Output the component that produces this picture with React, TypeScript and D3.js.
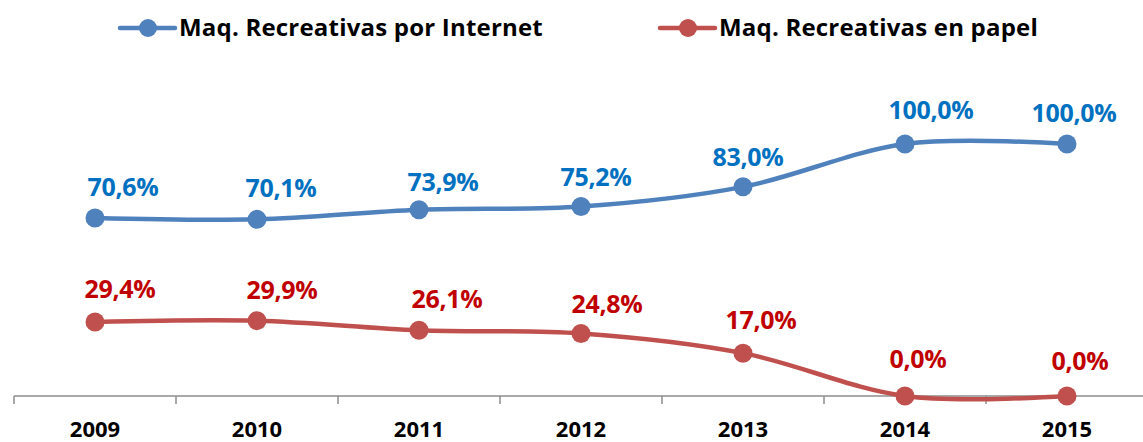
import { useEffect, useRef } from "react";
import * as d3 from "d3";

const years = ["2009", "2010", "2011", "2012", "2013", "2014", "2015"];
const internet = [70.6, 70.1, 73.9, 75.2, 83.0, 100.0, 100.0];
const papel = [29.4, 29.9, 26.1, 24.8, 17.0, 0.0, 0.0];

const seriesNames = ["Maq. Recreativas por Internet", "Maq. Recreativas en papel"];
const lineColors = ["#4F81BD", "#C0504D"];
const labelColors = ["#0070C0", "#C00000"];

// hand-placed data label offsets (as in the original chart)
const labelDx = [
  [28, 24, 24, 15, 5, 26, 7],
  [25, 25, 28, 26, 18, 13, 13],
];
const labelDy = [
  [-22, -22, -19, -20, -21, -25, -22],
  [-24, -22, -22, -21, -24, -28, -26],
];

const fmt = (v: number) => v.toFixed(1).replace(".", ",") + "%";

export default function App() {
  const svgRef = useRef<SVGSVGElement>(null);

  useEffect(() => {
    const width = 1143;
    const height = 442;
    const font = "'Open Sans', Lato, sans-serif";

    const svg = d3.select(svgRef.current).attr("width", width).attr("height", height);
    svg.selectAll("*").remove();

    const x = d3.scaleBand().domain(years).range([14, 1148]);
    const y = d3.scaleLinear().domain([0, 100]).range([396, 144]);
    const cx = (d: string) => (x(d) as number) + x.bandwidth() / 2;

    // axis
    svg
      .append("line")
      .attr("x1", 14)
      .attr("x2", width)
      .attr("y1", y(0))
      .attr("y2", y(0))
      .attr("stroke", "#8c8c8c")
      .attr("stroke-width", 1.5);

    svg
      .selectAll("line.tick")
      .data(years)
      .enter()
      .append("line")
      .attr("class", "tick")
      .attr("x1", (d) => x(d) as number)
      .attr("x2", (d) => x(d) as number)
      .attr("y1", y(0))
      .attr("y2", y(0) + 8)
      .attr("stroke", "#8c8c8c")
      .attr("stroke-width", 1.5);

    svg
      .selectAll("text.year")
      .data(years)
      .enter()
      .append("text")
      .attr("class", "year")
      .attr("x", cx)
      .attr("y", 437)
      .attr("text-anchor", "middle")
      .attr("font-family", font)
      .attr("font-weight", "bold")
      .attr("font-size", 22)
      .attr("fill", "#000")
      .text((d) => d);

    const line = d3
      .line<number>()
      .x((_, i) => cx(years[i]))
      .y((d) => y(d))
      .curve(d3.curveCardinal.tension(0));

    [internet, papel].forEach((vals, s) => {
      const g = svg.append("g");
      g.append("path")
        .attr("d", line(vals))
        .attr("fill", "none")
        .attr("stroke", lineColors[s])
        .attr("stroke-width", 4.5)
        .attr("stroke-linecap", "round");

      g.selectAll("circle")
        .data(vals)
        .enter()
        .append("circle")
        .attr("cx", (_, i) => cx(years[i]))
        .attr("cy", (d) => y(d))
        .attr("r", 9.5)
        .attr("fill", lineColors[s]);

      g.selectAll("text")
        .data(vals)
        .enter()
        .append("text")
        .attr("x", (_, i) => cx(years[i]) + labelDx[s][i])
        .attr("y", (d, i) => y(d) + labelDy[s][i])
        .attr("text-anchor", "middle")
        .attr("font-family", font)
        .attr("font-weight", "bold")
        .attr("font-size", 25)
        .attr("letter-spacing", -0.3)
        .attr("fill", labelColors[s])
        .text((d) => fmt(d));
    });

    // legend
    const legendX = [120, 660];
    seriesNames.forEach((name, s) => {
      const lg = svg.append("g").attr("transform", `translate(${legendX[s]},28)`);
      lg.append("line")
        .attr("x1", 0)
        .attr("x2", 55)
        .attr("stroke", lineColors[s])
        .attr("stroke-width", 4.5)
        .attr("stroke-linecap", "round");
      lg.append("circle").attr("cx", 28).attr("r", 9).attr("fill", lineColors[s]);
      lg.append("text")
        .attr("x", 59)
        .attr("y", 8)
        .attr("font-family", font)
        .attr("font-weight", "bold")
        .attr("font-size", 24)
        .attr("letter-spacing", 0.2)
        .attr("fill", "#000")
        .text(name);
    });
  }, []);

  return <svg ref={svgRef} style={{ display: "block", position: "absolute", left: 0, top: 0 }}></svg>;
}
